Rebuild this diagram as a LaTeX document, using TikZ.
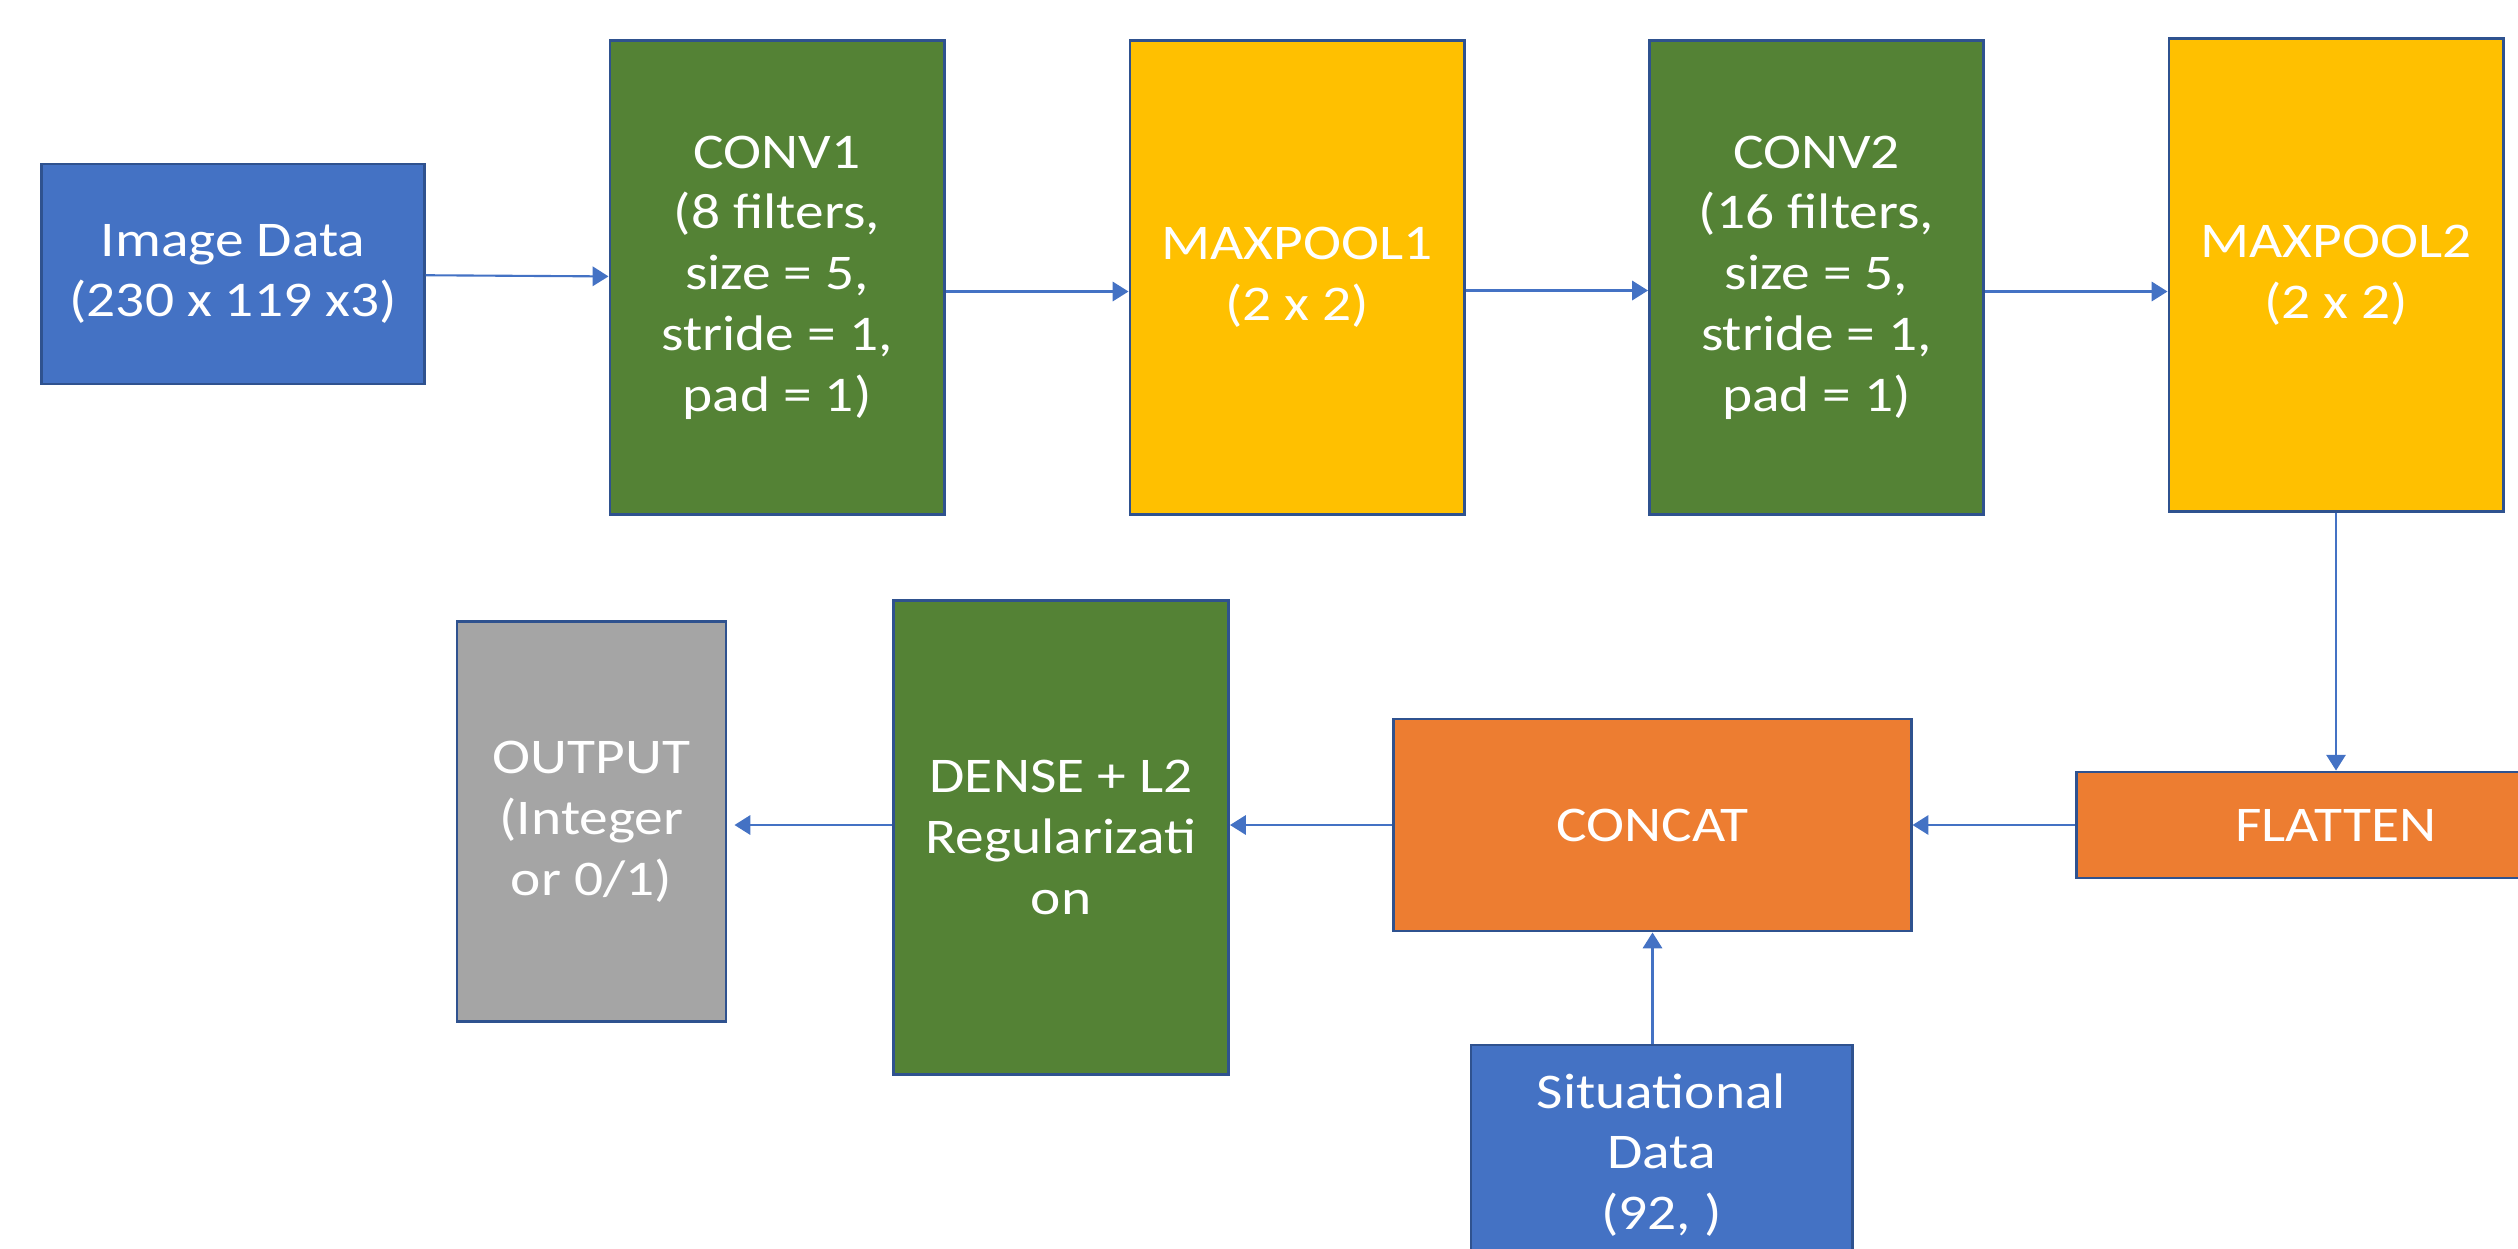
\documentclass[tikz,border=0pt]{standalone}
\usepackage{fontspec}
\setmainfont[FakeStretch=1.15]{Carlito}
\usetikzlibrary{arrows.meta}
\definecolor{boxblue}{HTML}{4472C4}
\definecolor{boxgreen}{HTML}{548235}
\definecolor{boxyellow}{HTML}{FFC000}
\definecolor{boxorange}{HTML}{ED7D31}
\definecolor{boxgray}{HTML}{A5A5A5}
\definecolor{edgeblue}{HTML}{2F528F}

\begin{document}
\begin{tikzpicture}[x=0.01cm, y=-0.01cm,
        blk/.style={draw=edgeblue, line width=0.8pt, text=white, align=center, inner sep=0pt,
            font=\fontsize{14.2}{17.3}\selectfont},
        lyr/.style={blk, minimum width=3.34cm, minimum height=4.73cm},
        flow/.style={boxblue, line width=0.6pt, -{Triangle[length=4.5pt,width=5.5pt]}},
    ]
        \clip (0,0) rectangle (2518,1248);
        % Add first row
        \node (img) at (233,274) [blk, fill=boxblue, minimum width=3.82cm, minimum height=2.2cm] {Image Data\\(230 x 119 x3)};
        \node (cv1) at (777,277.5) [lyr, fill=boxgreen] {CONV1\\(8 filters,\\size = 5,\\stride = 1,\\pad = 1)};
        \node (mp1) at (1297,277.5) [lyr, fill=boxyellow] {MAXPOOL1\\(2 x 2)};
        \node (cv2) at (1816.5,277.5) [lyr, fill=boxgreen] {CONV2\\(16 filters,\\size = 5,\\stride = 1,\\pad = 1)};
        \node (mp2) at (2336,275) [lyr, fill=boxyellow] {MAXPOOL2\\(2 x 2)};
        % Add second row
        \node (out) at (591.5,821.5) [blk, fill=boxgray, minimum width=2.69cm, minimum height=4cm] {OUTPUT\\(Integer\\or 0/1)};
        \node (dns) at (1061,837.5) [lyr, fill=boxgreen, minimum width=3.35cm] {DENSE + L2\\Regularizati\\on};
        \node (cat) at (1652.5,825) [blk, fill=boxorange, minimum width=5.17cm, minimum height=2.12cm] {CONCAT};
        \node (flt) at (2336,825) [blk, fill=boxorange, minimum width=5.18cm, minimum height=1.06cm] {FLATTEN};
        \node (sit) at (1661.5,1155) [blk, fill=boxblue, minimum width=3.81cm, minimum height=2.2cm] {Situational\\Data\\(92, )};
        % Add arrows
        \draw[flow] (img) -- (cv1);
        \draw[flow] ([yshift=-1.4mm]cv1.east) -- ([yshift=-1.4mm]mp1.west);
        \draw[flow] ([yshift=-1.3mm]mp1.east) -- ([yshift=-1.3mm]cv2.west);
        \draw[flow] ([yshift=-1.4mm]cv2.east) -- ([yshift=-1.4mm]cv2.east -| mp2.west);
        \draw[flow] (mp2) -- (flt);
        \draw[flow] (flt) -- (cat);
        \draw[flow] (cat.west) -- (cat.west -| dns.east);
        \draw[flow] (dns.west |- cat.west) -- ([xshift=0.7mm]out.east |- cat.west);
        \draw[flow] (sit.north -| cat.south) -- (cat.south);
    \end{tikzpicture}
\end{document}
